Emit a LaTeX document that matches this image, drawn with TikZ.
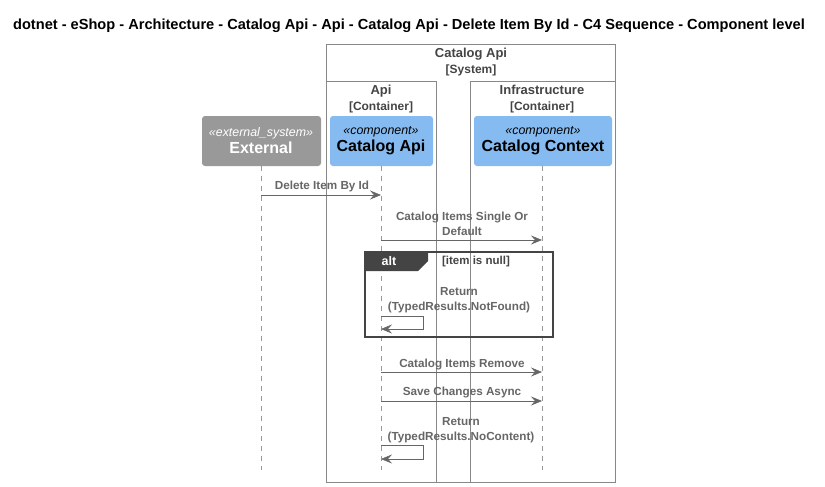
\documentclass[tikz,border=0pt]{standalone}
\usepackage{fontspec}
\setmainfont{Liberation Sans}
\usetikzlibrary{arrows.meta}
\definecolor{txtgray}{HTML}{666666}
\definecolor{boxgray}{HTML}{999999}
\definecolor{compblue}{HTML}{85BBF0}
\definecolor{framegray}{HTML}{888888}
\definecolor{hdrgray}{HTML}{444444}
\begin{document}
\begin{tikzpicture}[x=1pt,y=-1pt,
  bnd/.style={draw=framegray,line width=0.8pt},
  bndlabel/.style={font=\fontsize{13}{15.5}\selectfont\bfseries,text=hdrgray,align=center,inner sep=0},
  comp/.style={fill=compblue,rounded corners=3pt,draw=none},
  ext/.style={fill=boxgray,rounded corners=3pt,draw=none},
  life/.style={draw=boxgray,dash pattern=on 5pt off 5pt,line width=0.6pt},
  msg/.style={draw=txtgray,line width=1pt,-{Stealth[length=11pt,width=9pt,inset=4pt,line width=0.6pt]}},
  msglabel/.style={font=\fontsize{11.7}{15}\selectfont\bfseries,text=txtgray,align=center,inner sep=0},
]
\useasboundingbox (0,0) rectangle (825,487);
\node[font=\fontsize{14.6}{16}\selectfont\bfseries,inner sep=0] (title) at (409,25.5) {dotnet - eShop - Architecture - Catalog Api - Api - Catalog Api - Delete Item By Id - C4 Sequence - Component level};
% boundaries
\draw[bnd] (326,44) rectangle (615,482);
\node[bndlabel] (syslbl) at (471,62) {Catalog Api\\{\fontsize{12}{15}\selectfont[System]}};
\draw[bnd] (326,81) rectangle (436,482);
\node[bndlabel] (apilbl) at (381,99) {Api\\{\fontsize{12}{15}\selectfont[Container]}};
\draw[bnd] (470,81) rectangle (615,482);
\node[bndlabel] (inflbl) at (542,99) {Infrastructure\\{\fontsize{12}{15}\selectfont[Container]}};
% participants
\path[ext] (202,116) rectangle (321,166);
\node[text=white,align=center,inner sep=0] (ext) at (261,141) {{\fontsize{12.4}{14}\selectfont\itshape «external\_system»}\\[2pt]{\fontsize{16}{18}\selectfont\bfseries External}};
\path[comp] (330,116) rectangle (433,166);
\node[align=center,inner sep=0] (capi) at (381,141) {{\fontsize{12.4}{14}\selectfont\itshape «component»}\\[2pt]{\fontsize{16}{18}\selectfont\bfseries Catalog Api}};
\path[comp] (474,116) rectangle (612,166);
\node[align=center,inner sep=0] (cctx) at (543,141) {{\fontsize{12.4}{14}\selectfont\itshape «component»}\\[2pt]{\fontsize{16}{18}\selectfont\bfseries Catalog Context}};
% lifelines
\coordinate (extB) at (261,470);
\coordinate (capiB) at (381,470);
\coordinate (cctxB) at (542,470);
\draw[life] (261,166) -- (extB);
\draw[life] (381,166) -- (capiB);
\draw[life] (542,166) -- (cctxB);
% messages
\coordinate (m1a) at (261,195); \coordinate (m1b) at (381,195);
\draw[msg] (m1a) -- (m1b);
\node[msglabel] (l1) at (322,186.5) {Delete Item By Id};
\coordinate (m2a) at (381,240); \coordinate (m2b) at (542,240);
\draw[msg] (m2a) -- (m2b);
\node[msglabel] (l2) at (462,223.5) {Catalog Items Single Or\\Default};
% alt frame
\draw[draw=hdrgray,line width=1.2pt] (365,252) rectangle (553,337);
\fill[hdrgray] (365,252) -- (428,252) -- (428,261) -- (418,271) -- (365,271) -- cycle;
\node[font=\fontsize{12.5}{14}\selectfont\bfseries,text=white,inner sep=0] (alt) at (389,261.5) {alt};
\node[font=\fontsize{11.5}{13}\selectfont\bfseries,text=hdrgray,inner sep=0] (cond) at (476,261.5) {[item is null]};
\node[msglabel] (l3) at (459,300.5) {Return\\(TypedResults.NotFound)};
\coordinate (s1a) at (381,316); \coordinate (s1b) at (423,316); \coordinate (s1c) at (423,329); \coordinate (s1d) at (381,329);
\draw[msg] (s1a) -- (s1b) -- (s1c) -- (s1d);
\coordinate (m4a) at (381,372); \coordinate (m4b) at (542,372);
\draw[msg] (m4a) -- (m4b);
\node[msglabel] (l4) at (462,364.5) {Catalog Items Remove};
\coordinate (m5a) at (381,401); \coordinate (m5b) at (542,401);
\draw[msg] (m5a) -- (m5b);
\node[msglabel] (l5) at (462,392.5) {Save Changes Async};
\node[msglabel] (l6) at (461,430.5) {Return\\(TypedResults.NoContent)};
\coordinate (s2a) at (381,445); \coordinate (s2b) at (423,445); \coordinate (s2c) at (423,459); \coordinate (s2d) at (381,459);
\draw[msg] (s2a) -- (s2b) -- (s2c) -- (s2d);
\end{tikzpicture}
\end{document}
